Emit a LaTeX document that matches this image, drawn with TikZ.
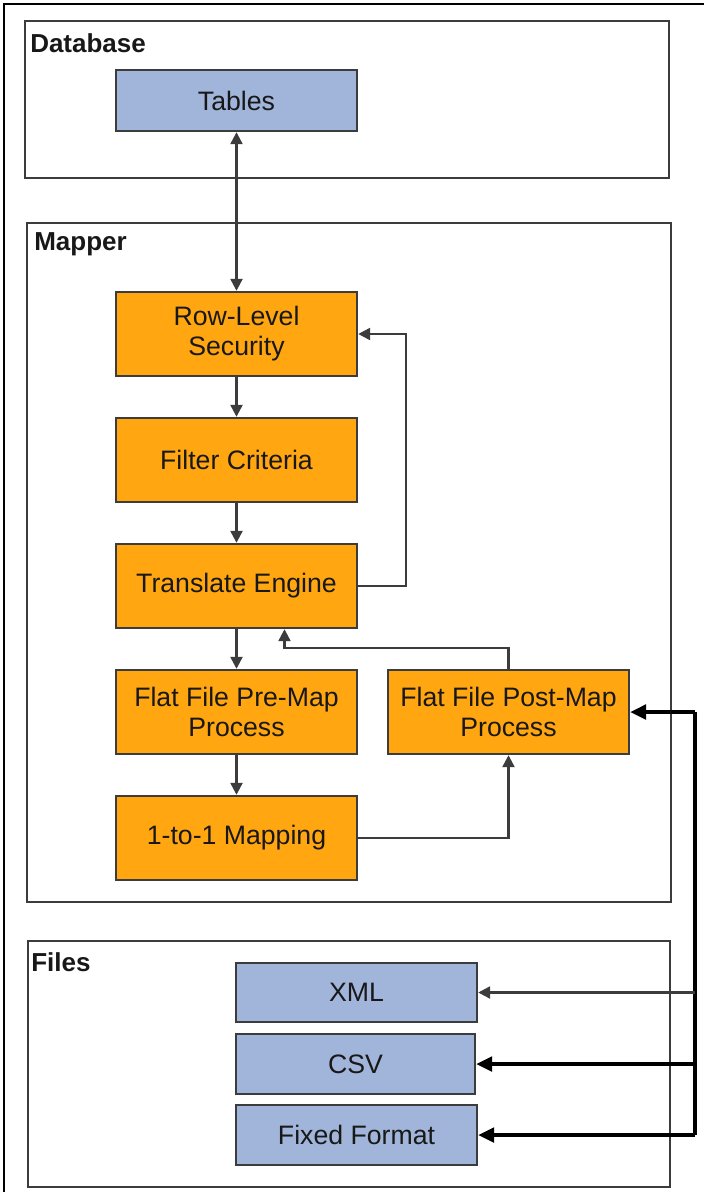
\documentclass[tikz,border=0pt]{standalone}
\usepackage{fontspec}
\setmainfont{Liberation Sans}
\usetikzlibrary{arrows.meta}

\definecolor{procfill}{RGB}{255,166,17}
\definecolor{datafill}{RGB}{161,181,218}
\definecolor{edgegray}{RGB}{60,60,60}
\definecolor{textdark}{RGB}{24,24,24}

\tikzset{
  px/.style={x=0.75pt, y=-0.75pt},
  group/.style={draw=edgegray, line width=1.8pt},
  grouptitle/.style={anchor=west, inner sep=0pt, font=\bfseries\fontsize{19.5}{22.5}\selectfont, text=textdark},
  procbox/.style={draw=edgegray, line width=1.8pt, fill=procfill, rectangle,
    minimum width=180.75pt, minimum height=63pt, align=center, inner sep=2pt,
    font=\fontsize{20}{22.5}\selectfont, text=textdark},
  databox/.style={procbox, fill=datafill},
  link/.style={draw=edgegray, line width=1.8pt, -{Triangle[length=9pt,width=9pt]}},
  twolink/.style={link, {Triangle[length=9pt,width=9pt]}-{Triangle[length=9pt,width=9pt]}},
  busline/.style={draw=black, line width=2.6pt},
  buslink/.style={busline, -{Triangle[length=12pt,width=11pt]}},
}

\begin{document}
\begin{tikzpicture}[px]
  \useasboundingbox (0,0) rectangle (704,1192);

  % page frame (top and left edges)
  \draw[black, line width=1pt] (704,4) -- (4,4) -- (4,1192);

  % containers
  \draw[group] (25,21) rectangle (669,178);
  \draw[group] (27,223) rectangle (671,902);
  \draw[group] (28,941) rectangle (670,1187);
  \node[grouptitle] (tdb) at (30,43) {Database};
  \node[grouptitle] (tmap) at (34,244) {Mapper};
  \node[grouptitle] (tfil) at (31,962) {Files};

  % database
  \node[databox, minimum height=45.75pt] (tab) at (236.5,100.5) {Tables};

  % mapper steps
  \node[procbox] (rls) at (236.5,334) {Row-Level\\Security};
  \node[procbox] (flt) at (236.5,460) {Filter Criteria};
  \node[procbox] (trn) at (236.5,586) {Translate Engine};
  \node[procbox] (pre) at (236.5,712) {Flat File Pre-Map\\Process};
  \node[procbox] (one) at (236.5,838) {1-to-1 Mapping};
  \node[procbox] (pst) at (508.5,712) {Flat File Post-Map\\Process};

  % file formats
  \node[databox, minimum height=44.25pt] (xml) at (356.5,992.5) {XML};
  \node[databox, minimum width=179.25pt, minimum height=45pt] (csv) at (355.5,1064) {CSV};
  \node[databox, minimum height=45pt] (fix) at (356.5,1135) {Fixed Format};

  % main flow
  \draw[twolink] (tab.south) -- (rls.north);
  \draw[link] (rls.south) -- (flt.north);
  \draw[link] (flt.south) -- (trn.north);
  \draw[link] (trn.south) -- (pre.north);
  \draw[link] (pre.south) -- (one.north);

  % feedback loops
  \draw[link] (trn.east) -- ++(48,0) |- (rls.east);
  \draw[link] (one.east) -| (pst.south);
  \draw[link] (pst.north) -- ++(0,-21) -| ([xshift=36pt]trn.south);

  % file bus
  \coordinate (bt) at (695,712);
  \draw[busline] (bt) -- (bt |- fix.east);
  \draw[buslink] (bt) -- (pst.east);
  \draw[link] (bt |- xml.east) -- (xml.east);
  \draw[buslink] (bt |- csv.east) -- (csv.east);
  \draw[buslink] (bt |- fix.east) -- (fix.east);
\end{tikzpicture}
\end{document}
